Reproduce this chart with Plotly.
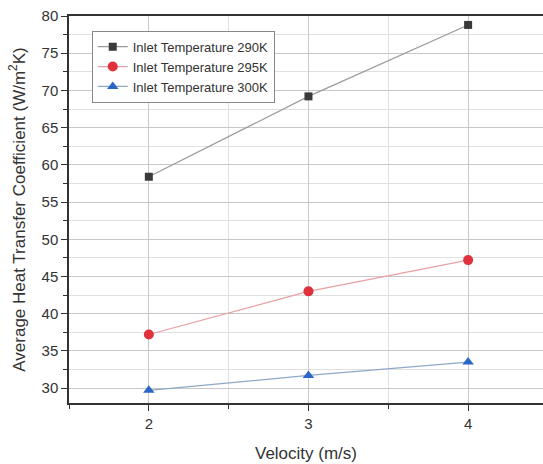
import plotly.graph_objects as go

velocity = [2, 3, 4]
h_290 = [58.4, 69.2, 78.8]
h_295 = [37.2, 43.0, 47.2]
h_300 = [29.7, 31.7, 33.5]
names = ["Inlet Temperature 290K", "Inlet Temperature 295K", "Inlet Temperature 300K"]

fig = go.Figure()
specs = [
    (h_290, names[0], "#3a3a3a", "#9a9a9a", "square", 8),
    (h_295, names[1], "#e0323c", "#e8a0a4", "circle", 10),
    (h_300, names[2], "#2a66c6", "#8fa8c8", "triangle-up", 10),
]
for ys, nm, mc, lc, sym, sz in specs:
    fig.add_trace(go.Scatter(
        x=velocity, y=ys, name=nm, mode="lines+markers",
        line=dict(color=lc, width=1.2),
        marker=dict(color=mc, symbol=sym, size=sz),
    ))

axis_font = dict(family="Liberation Sans, Arial, sans-serif", size=15, color="#333")
fig.update_layout(
    width=543, height=464,
    margin=dict(l=69, r=0, t=16, b=61),
    plot_bgcolor="white", paper_bgcolor="white",
    font=dict(family="Liberation Sans, Arial, sans-serif", color="#333"),
    legend=dict(
        x=0.048, y=0.962, xanchor="left", yanchor="top",
        bgcolor="white", bordercolor="#888", borderwidth=1,
        font=dict(size=13, color="#333"),
        tracegroupgap=0, itemwidth=30,
    ),
    showlegend=True,
)
fig.update_xaxes(
    range=[1.5, 4.469], tickvals=velocity, ticktext=[str(v) for v in velocity],
    showline=True, linecolor="#333", linewidth=1.5, mirror=True,
    ticks="outside", ticklen=6, tickcolor="#333",
    showgrid=True, gridcolor="#c8c8c8", gridwidth=1,
    minor=dict(dtick=0.5, ticks="outside", ticklen=4, tickcolor="#333",
               showgrid=True, gridcolor="#e0e0e0"),
    tickfont=axis_font, zeroline=False,
    title=dict(text="Velocity (m/s)", font=dict(size=17, color="#333"), standoff=16),
)
fig.update_yaxes(
    range=[28, 80], tick0=30, dtick=5,
    showline=True, linecolor="#333", linewidth=1.5, mirror=False,
    ticks="outside", ticklen=6, tickcolor="#333",
    showgrid=True, gridcolor="#c8c8c8", gridwidth=1,
    minor=dict(dtick=2.5, tick0=27.5, ticks="outside", ticklen=4, tickcolor="#333",
               showgrid=True, gridcolor="#e0e0e0"),
    tickfont=axis_font, zeroline=False,
    title=dict(text="Average Heat Transfer Coefficient (W/m<sup>2</sup>K)",
               font=dict(size=17, color="#333"), standoff=12),
)
fig.write_html("out.html")
